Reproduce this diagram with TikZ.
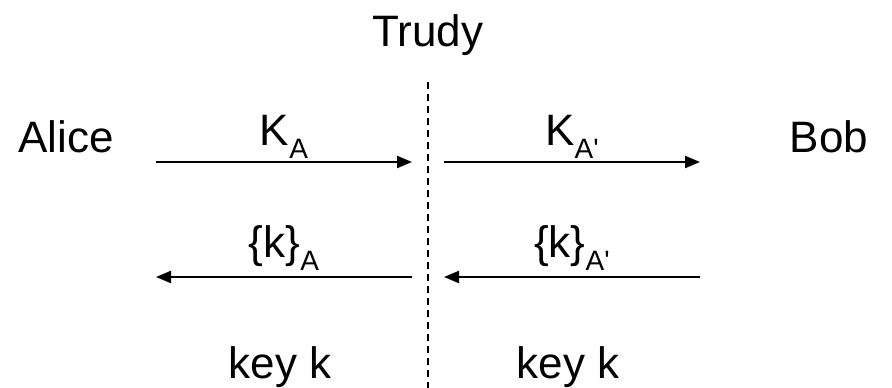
\documentclass[tikz,border=0pt]{standalone}
\usepackage{fontspec}
\setmainfont{Liberation Sans}
\usetikzlibrary{arrows.meta}
\newcommand{\subA}[1]{\raisebox{-0.3em}{\fontsize{28}{30}\selectfont #1}}
\tikzset{
  lbl/.style={font=\fontsize{44}{50}\selectfont, inner sep=0pt, anchor=base},
  msg/.style={line width=2.2pt, -{Triangle[length=15pt,width=12pt]}},
  divider/.style={line width=2pt, dash pattern=on 7pt off 5pt}
}
\begin{document}
\begin{tikzpicture}[x=1pt,y=-1pt]
\useasboundingbox (0,0) rectangle (892,388);
% parties
\node[lbl] (trudy) at (428,46) {Trudy};
\node[lbl] (alice) at (66,152) {Alice};
\node[lbl] (bob) at (829,152) {Bob};
% Trudy's split of the channel
\coordinate (dtop) at (428,82);
\coordinate (dbot) at (428,388);
\draw[divider] (dtop) -- (dbot);
% message endpoints
\coordinate (a1) at (156,162); \coordinate (t1) at (412,162);
\coordinate (t2) at (444,162); \coordinate (b1) at (700,162);
\coordinate (t3) at (412,277); \coordinate (a2) at (156,277);
\coordinate (b2) at (700,277); \coordinate (t4) at (444,277);
\draw[msg] (a1) -- (t1);
\draw[msg] (t2) -- (b1);
\draw[msg] (t3) -- (a2);
\draw[msg] (b2) -- (t4);
% message labels
\node[lbl] (ka) at (284,145) {K\subA{A}};
\node[lbl] (kap) at (572,145) {K\subA{A\textquotesingle}};
\node[lbl] (ena) at (284,257) {\{k\}\subA{A}};
\node[lbl] (enap) at (572,257) {\{k\}\subA{A\textquotesingle}};
% session keys
\node[lbl] (kl) at (280,378) {key k};
\node[lbl] (kr) at (568,378) {key k};
\end{tikzpicture}
\end{document}
